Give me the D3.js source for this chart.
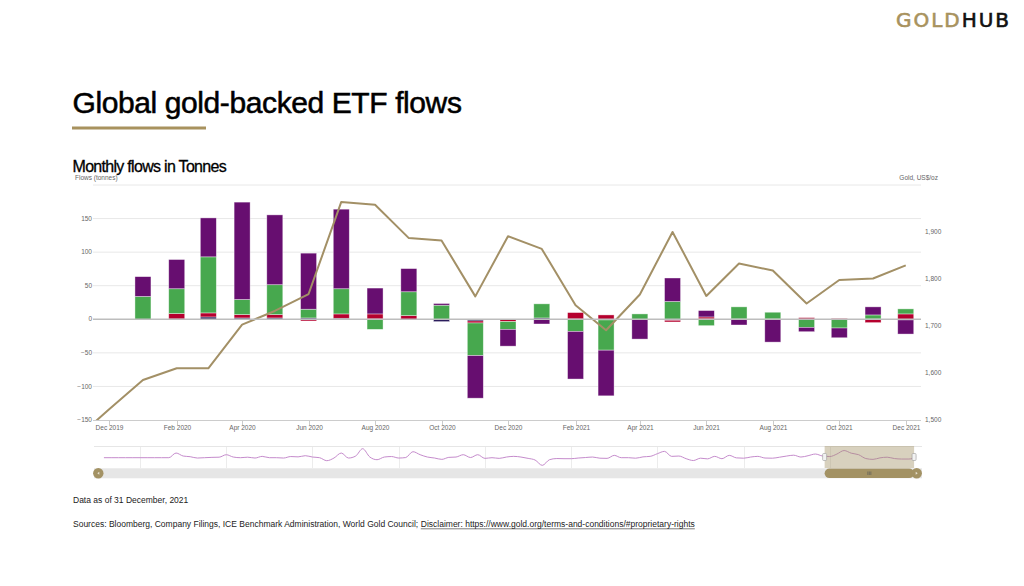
<!DOCTYPE html>
<html><head><meta charset="utf-8">
<script src="https://cdn.jsdelivr.net/npm/d3@7"></script>
<style>
body{margin:0;background:#fff}
svg{display:block}
text{font-family:"Liberation Sans",Arial,Helvetica,sans-serif}
</style>
</head><body>
<svg id="c" width="1024" height="586"></svg>
<script>
// ---------------- DATA ----------------
const months = ["2020-01","2020-02","2020-03","2020-04","2020-05","2020-06","2020-07","2020-08","2020-09","2020-10","2020-11","2020-12",
                "2021-01","2021-02","2021-03","2021-04","2021-05","2021-06","2021-07","2021-08","2021-09","2021-10","2021-11","2021-12"];
const northAmerica = [29.5, 43.5, 58, 145, 104, 83.5, 118.5, 38.5, 34.5, 2.5, -63.5, -25,
                      -7, -71, -68, -29.5, 35, 9.5, -8.5, -34, -6.5, -14.5, 12, -21];
const europe       = [34, 37, 83.5, 22.5, 44.5, 13, 37.5, -15, 35.5, 21, -48.5, -11.5,
                      21, -18, -45, 8, 26.5, -9.5, 18, 10, -12, -13, 6, 7.5];
const asia         = [0, 8, 6, 5, 5, -2.5, 6.5, 7.5, 5.5, 0, -3, -3,
                      0, 9.5, 6.5, 0, -2.5, 3, 0, 0, 2, 1, -5, 8];
const other        = [-1, 0.5, 3.5, 2, 2, 2, 1.5, 0.5, 0, -3.5, -2.5, -0.5,
                      2, 0.5, -1, 0, -1.5, 0.5, 0.5, 0.5, 0.5, 0.5, 0.5, -1];

const goldMonths = ["2019-11","2019-12","2020-01","2020-02","2020-03","2020-04","2020-05","2020-06","2020-07","2020-08","2020-09","2020-10","2020-11","2020-12",
                    "2021-01","2021-02","2021-03","2021-04","2021-05","2021-06","2021-07","2021-08","2021-09","2021-10","2021-11","2021-12"];
const goldPrice = [1461, 1523, 1585, 1610, 1610, 1703, 1732, 1768, 1964, 1958, 1887, 1882, 1763, 1891,
                   1864, 1744, 1691, 1767, 1900, 1764, 1833, 1818, 1748, 1798, 1801, 1829];

const xTickLabels = ["Dec 2019","Feb 2020","Apr 2020","Jun 2020","Aug 2020","Oct 2020","Dec 2020",
                     "Feb 2021","Apr 2021","Jun 2021","Aug 2021","Oct 2021","Dec 2021"];
const flowTicks = [-150,-100,-50,0,50,100,150,200];
const goldTicks = [1500,1600,1700,1800,1900];

// navigator (overview) series, one value every two months from Mar 2003
const navStart = "2003-03";
const navValues = [0,0,0,0,0,0,0,0,0,0,
  14,5,3,-1,0,1,1.5,9,2,0,
  1.5,-1,4,0,0,-1,3.5,2.5,6,2,
  0,-9,-1,14,-1,5,27,2,-6,2,
  3.5,-1,0.5,18,9,2,-1,-5,1,2,
  9,0.5,9,-2,0,-2,2,4,2,-2,
  -7,-23,-6,-2.5,-3,-3,-1,0.5,2,-1.5,
  -2,7,0,0,-1.5,2.5,4,12,19,4,
  5,-3,-8.5,-1.5,-3.5,4,-3,7,-0.5,-1.5,
  2,4,-1,-1.5,1.5,5,7.5,2,6,11,
  5,3.5,11,21.5,13.5,9,-2.5,-5,-0.5,1.5,
  -2.5,-4,-4,2];
const navGridYears = [2004,2006,2008,2010,2012,2014,2016,2018,2020];

// ---------------- STYLE ----------------
const C = {na:"#670e70", eu:"#47a84e", asia:"#b5002e", other:"#2b1d5c",
           gold:"#a39066", brand:"#a8925e", grid:"#e8e8e8", axis:"#cccccc", label:"#666666"};

const svg = d3.select("#c");
svg.append("rect").attr("width",1024).attr("height",586).attr("fill","#fff");

const parseM = d3.timeParse("%Y-%m");
const parseTick = d3.timeParse("%b %Y");

// header
const logo = svg.append("text").attr("x",896).attr("y",26.7)
  .attr("font-size",20).attr("font-weight",400)
  .style("font-family","'DejaVu Sans',Verdana,sans-serif")
  .attr("stroke-width",0.6)
  .attr("textLength",113).attr("lengthAdjust","spacing");
logo.append("tspan").attr("fill",C.brand).attr("stroke",C.brand).text("GOLD");
logo.append("tspan").attr("fill","#111").attr("stroke","#111").text("HUB");

svg.append("text").attr("x",72.5).attr("y",113.3).attr("font-size",30)
  .attr("letter-spacing","-0.4px").attr("fill","#000")
  .attr("stroke","#000").attr("stroke-width",0.55).text("Global gold-backed ETF flows");
svg.append("rect").attr("x",72).attr("y",126.5).attr("width",134).attr("height",3).attr("fill",C.brand);
svg.append("text").attr("x",72.5).attr("y",171.7).attr("font-size",16)
  .attr("letter-spacing","-0.7px").attr("fill","#000")
  .attr("stroke","#000").attr("stroke-width",0.3).text("Monthly flows in Tonnes");

// ---------------- MAIN CHART ----------------
const L = 95, R = 921, T = 185, B = 420;
const x = d3.scaleTime().domain([new Date(2019,10,18), new Date(2021,11,15)]).range([L,R]);
const y = d3.scaleLinear().domain([-150,200]).range([B,T]);
const y2 = d3.scaleLinear().domain([1500,2000]).range([B,T]);

svg.append("defs").append("clipPath").attr("id","plotclip")
  .append("rect").attr("x",L).attr("y",T-2).attr("width",R-L).attr("height",B-T+2);

svg.append("text").attr("x",75).attr("y",180).attr("font-size",6.5).attr("fill",C.label).text("Flows (tonnes)");
svg.append("text").attr("x",938).attr("y",180).attr("font-size",6.5).attr("fill",C.label)
  .attr("text-anchor","end").text("Gold, US$/oz");

// gridlines
svg.append("g").selectAll("line").data(flowTicks.filter(d=>d!==0 && d!==-150)).join("line")
  .attr("x1",93).attr("x2",R).attr("y1",d=>y(d)).attr("y2",d=>y(d))
  .attr("stroke",C.grid).attr("stroke-width",1);

// left axis labels
svg.append("g").selectAll("text").data(flowTicks.filter(d=>d!==200)).join("text")
  .attr("x",92).attr("y",d=>y(d)).attr("dy","0.33em").attr("text-anchor","end")
  .attr("font-size",6.5).attr("fill",C.label).text(d=>d3.format(",")(d));
// right axis labels
svg.append("g").selectAll("text").data(goldTicks).join("text")
  .attr("x",925).attr("y",d=>y2(d)).attr("dy","0.33em").attr("text-anchor","start")
  .attr("font-size",6.5).attr("fill",C.label).text(d=>d3.format(",")(d));

// x axis
const xTicks = xTickLabels.map(parseTick);
svg.append("line").attr("x1",93).attr("x2",R).attr("y1",B+0.5).attr("y2",B+0.5).attr("stroke",C.axis);
const xt = svg.append("g").selectAll("g").data(xTicks).join("g")
  .attr("transform",d=>`translate(${Math.round(x(d))+0.5},0)`);
xt.append("line").attr("y1",B).attr("y2",B+5).attr("stroke",C.axis);
xt.append("text").attr("y",B+9.5).attr("text-anchor","middle").attr("font-size",6.5)
  .attr("fill",C.label).text((d,i)=>xTickLabels[i]);

// bars
const rows = months.map((m,i)=>({date:parseM(m), other:other[i], asia:asia[i], europe:europe[i], na:northAmerica[i]}));
const keys = ["other","asia","europe","na"];
const colors = {other:C.other, asia:C.asia, europe:C.eu, na:C.na};
const stacked = d3.stack().keys(keys).offset(d3.stackOffsetDiverging)(rows);
const plot = svg.append("g").attr("clip-path","url(#plotclip)");
const bw = 16;
plot.append("g").selectAll("g").data(stacked).join("g").attr("fill",s=>colors[s.key])
  .selectAll("rect").data(s=>s.filter(d=>d[1]!==d[0])).join("rect")
  .attr("x",d=>x(d.data.date)-bw/2).attr("width",bw)
  .attr("y",d=>y(Math.max(d[0],d[1]))).attr("height",d=>Math.abs(y(d[0])-y(d[1])))
  .attr("stroke","rgba(255,255,255,0.55)").attr("stroke-width",0.7);

// zero line
svg.append("line").attr("x1",93).attr("x2",R).attr("y1",y(0)).attr("y2",y(0))
  .attr("stroke","#bdbdbd").attr("stroke-width",1.5);

// gold line
const goldRows = goldMonths.map((m,i)=>({date:parseM(m), v:goldPrice[i]}));
plot.append("path").datum(goldRows)
  .attr("d",d3.line().x(d=>x(d.date)).y(d=>y2(d.v)))
  .attr("fill","none").attr("stroke",C.gold).attr("stroke-width",2).attr("stroke-linejoin","round");

// ---------------- NAVIGATOR ----------------
const NL = 94, NR = 922, NT = 446, NB = 468;
const nx = d3.scaleTime().domain([new Date(2002,11,7), new Date(2022,1,20)]).range([NL,NR]);
const ny = d3.scaleLinear().domain([-30,30]).range([NB-0.3,NT+1.7]);
const navRows = navValues.map((v,i)=>({date:d3.timeMonth.offset(parseM(navStart),2*i), v}));

svg.append("g").selectAll("line").data(navGridYears).join("line")
  .attr("x1",d=>Math.round(nx(new Date(d,0,1)))+0.5).attr("x2",d=>Math.round(nx(new Date(d,0,1)))+0.5)
  .attr("y1",NT).attr("y2",NB).attr("stroke","#ececec");
svg.append("line").attr("x1",NL).attr("x2",NR).attr("y1",NT+0.5).attr("y2",NT+0.5).attr("stroke","#e6e6e6");

svg.append("path").datum(navRows)
  .attr("d",d3.line().x(d=>nx(d.date)).y(d=>ny(d.v)).curve(d3.curveMonotoneX))
  .attr("fill","none").attr("stroke","#c58bcc").attr("stroke-width",1);

const sx0 = nx(x.domain()[0]), sx1 = nx(x.domain()[1]);
svg.append("rect").attr("x",sx0).attr("y",NT).attr("width",sx1-sx0).attr("height",NB-NT)
  .attr("fill","rgba(163,146,100,0.42)");
[sx0,sx1].forEach(h=>{
  svg.append("rect").attr("x",h-2).attr("y",(NT+NB)/2-3.5).attr("width",4).attr("height",7)
    .attr("rx",1).attr("fill","#f2f2f2").attr("stroke","#999").attr("stroke-width",0.6);
});

// scrollbar
svg.append("rect").attr("x",NL).attr("y",NB+0.3).attr("width",NR-NL).attr("height",10).attr("fill","#e6e6e6");
svg.append("rect").attr("x",sx0).attr("y",NB+0.5).attr("width",sx1-sx0).attr("height",9.6).attr("rx",4.8)
  .attr("fill","#a39264");
[-1.5,0,1.5].forEach(o=>{
  svg.append("line").attr("x1",(sx0+sx1)/2+o).attr("x2",(sx0+sx1)/2+o).attr("y1",NB+3.5).attr("y2",NB+7)
    .attr("stroke","#555").attr("stroke-width",0.6);
});
[[98.3,-1],[916.7,1]].forEach(([cx,dir])=>{
  svg.append("circle").attr("cx",cx).attr("cy",NB+5.3).attr("r",5.2).attr("fill","#a39264");
  svg.append("path").attr("d",`M${cx-dir*1},${NB+3.8} L${cx+dir*1},${NB+5.3} L${cx-dir*1},${NB+6.8} Z`)
    .attr("fill","#e8e2d2");
});

// ---------------- FOOTER ----------------
svg.append("text").attr("x",73).attr("y",502.5).attr("font-size",8.5).attr("fill","#222")
  .text("Data as of 31 December, 2021");
const src = svg.append("text").attr("x",73).attr("y",527).attr("font-size",8.5).attr("fill","#222")
  .text("Sources: Bloomberg, Company Filings, ICE Benchmark Administration, World Gold Council;");
const w1 = src.node().getComputedTextLength() + 2.6;
const disc = svg.append("text").attr("x",73+w1).attr("y",527).attr("font-size",8.5).attr("fill","#222")
  .text("Disclaimer: https://www.gold.org/terms-and-conditions/#proprietary-rights");
const w2 = disc.node().getComputedTextLength();
svg.append("line").attr("x1",73+w1).attr("x2",73+w1+w2).attr("y1",528.8).attr("y2",528.8)
  .attr("stroke","#222").attr("stroke-width",0.6);
</script>
</body></html>
